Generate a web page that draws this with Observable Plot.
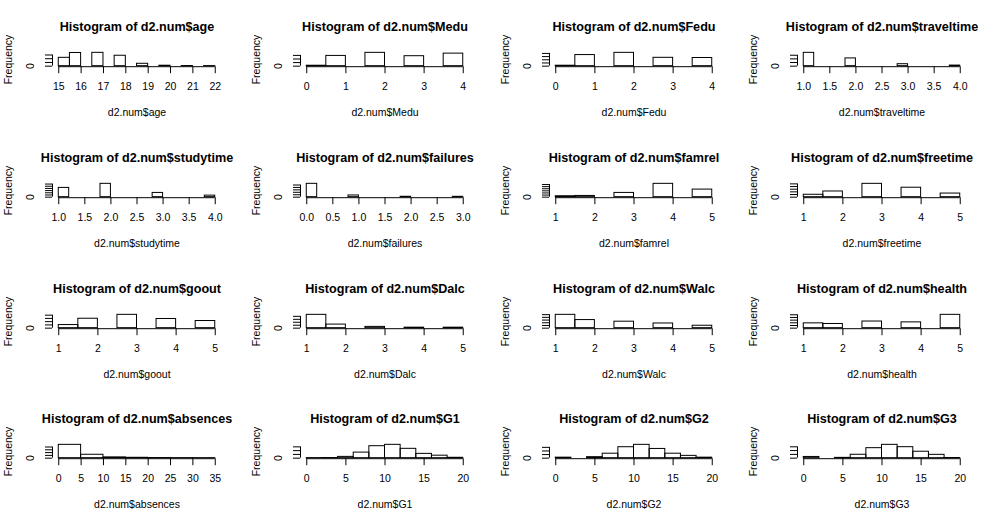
<!DOCTYPE html>
<html>
<head>
<meta charset="utf-8">
<script src="https://cdn.jsdelivr.net/npm/d3@7"></script>
<script src="https://cdn.jsdelivr.net/npm/@observablehq/plot@0.6"></script>
<style>
  html, body { margin: 0; padding: 0; background: #fff; }
  #grid { position: relative; width: 993px; height: 523px; background: #fff; }
  .cell { position: absolute; width: 248px; height: 131px; }
  .cell svg { overflow: visible; }
</style>
</head>
<body>
<div id="grid"></div>
<script>
// ---- variable names (panel order) ----
const varNames = ["age", "Medu", "Fedu", "traveltime",
                  "studytime", "failures", "famrel", "freetime",
                  "goout", "Dalc", "Walc", "health",
                  "absences", "G1", "G2", "G3"];

// ---- histogram break points ----
const ageBreaks   = [15, 15.5, 16, 16.5, 17, 17.5, 18, 18.5, 19, 19.5, 20, 20.5, 21, 21.5, 22];
const eduBreaks   = [0, 0.5, 1, 1.5, 2, 2.5, 3, 3.5, 4];
const timeBreaks  = [1, 1.2, 1.4, 1.6, 1.8, 2, 2.2, 2.4, 2.6, 2.8, 3, 3.2, 3.4, 3.6, 3.8, 4];
const failBreaks  = [0, 0.2, 0.4, 0.6, 0.8, 1, 1.2, 1.4, 1.6, 1.8, 2, 2.2, 2.4, 2.6, 2.8, 3];
const scaleBreaks = [1, 1.5, 2, 2.5, 3, 3.5, 4, 4.5, 5];
const absBreaks   = [0, 5, 10, 15, 20, 25, 30, 35];
const gradeBreaks = [0, 2, 4, 6, 8, 10, 12, 14, 16, 18, 20];

// ---- bin counts (frequencies) ----
const ageCounts        = [112, 177, 0, 179, 0, 140, 0, 32, 0, 6, 0, 2, 0, 1];
const meduCounts       = [6, 143, 0, 186, 0, 139, 0, 175];
const feduCounts       = [7, 174, 0, 209, 0, 131, 0, 128];
const traveltimeCounts = [366, 0, 0, 0, 213, 0, 0, 0, 0, 54, 0, 0, 0, 0, 16];
const studytimeCounts  = [212, 0, 0, 0, 305, 0, 0, 0, 0, 97, 0, 0, 0, 0, 35];
const failuresCounts   = [549, 0, 0, 0, 70, 0, 0, 0, 0, 16, 0, 0, 0, 0, 14];
const famrelCounts     = [22, 29, 0, 101, 0, 317, 0, 180];
const freetimeCounts   = [45, 107, 0, 251, 0, 178, 0, 68];
const gooutCounts      = [48, 145, 0, 205, 0, 141, 0, 110];
const dalcCounts       = [451, 121, 0, 43, 0, 17, 0, 17];
const walcCounts       = [247, 150, 0, 120, 0, 87, 0, 45];
const healthCounts     = [90, 78, 0, 124, 0, 108, 0, 249];
const absencesCounts   = [478, 122, 28, 13, 5, 2, 1];
const g1Counts         = [1, 2, 17, 74, 159, 177, 124, 57, 33, 5];
const g2Counts         = [7, 0, 14, 62, 152, 185, 128, 62, 32, 7];
const g3Counts         = [16, 0, 4, 45, 132, 176, 145, 85, 44, 2];

// ---- x-axis tick labels ----
const ageTicks   = [15, 16, 17, 18, 19, 20, 21, 22];
const eduTicks   = [0, 1, 2, 3, 4];
const timeTicks  = [1.0, 1.5, 2.0, 2.5, 3.0, 3.5, 4.0];
const failTicks  = [0.0, 0.5, 1.0, 1.5, 2.0, 2.5, 3.0];
const scaleTicks = [1, 2, 3, 4, 5];
const absTicks   = [0, 5, 10, 15, 20, 25, 30, 35];
const gradeTicks = [0, 5, 10, 15, 20];

const int = d3.format("d");
const dec1 = d3.format(".1f");

const panels = [
  [ageCounts, ageBreaks, ageTicks, int],
  [meduCounts, eduBreaks, eduTicks, int],
  [feduCounts, eduBreaks, eduTicks, int],
  [traveltimeCounts, timeBreaks, timeTicks, dec1],
  [studytimeCounts, timeBreaks, timeTicks, dec1],
  [failuresCounts, failBreaks, failTicks, dec1],
  [famrelCounts, scaleBreaks, scaleTicks, int],
  [freetimeCounts, scaleBreaks, scaleTicks, int],
  [gooutCounts, scaleBreaks, scaleTicks, int],
  [dalcCounts, scaleBreaks, scaleTicks, int],
  [walcCounts, scaleBreaks, scaleTicks, int],
  [healthCounts, scaleBreaks, scaleTicks, int],
  [absencesCounts, absBreaks, absTicks, int],
  [g1Counts, gradeBreaks, gradeTicks, int],
  [g2Counts, gradeBreaks, gradeTicks, int],
  [g3Counts, gradeBreaks, gradeTicks, int]
];

const FONT = "'Liberation Sans', Arial, Helvetica, sans-serif";
const grid = document.getElementById("grid");

panels.forEach(([counts, breaks, ticks, fmt], i) => {
  const name = varNames[i];
  const lo = breaks[0], hi = breaks[breaks.length - 1], r = hi - lo;
  const M = d3.max(counts);
  const bins = counts.map((c, j) => ({x1: breaks[j], x2: breaks[j + 1], y1: 0, y2: c}));
  const yTicks = d3.ticks(0, M * 1.04, 5);
  const xAxisLine = [{y: -0.04 * M, x1: ticks[0], x2: ticks[ticks.length - 1]}];
  const yAxisLine = [{x: lo - 0.04 * r, y1: yTicks[0], y2: yTicks[yTicks.length - 1]}];

  const chart = Plot.plot({
    width: 248,
    height: 131,
    marginLeft: 52,
    marginRight: 27,
    marginTop: 51.8,
    marginBottom: 64.8,
    x: {domain: [lo - 0.04 * r, hi + 0.04 * r]},
    y: {domain: [-0.04 * M, 1.04 * M]},
    style: {fontFamily: FONT, fontSize: "10.5px", color: "black", background: "transparent", overflow: "visible"},
    marks: [
      Plot.rect(bins, {x1: "x1", x2: "x2", y1: "y1", y2: "y2", stroke: "black", fill: "none", strokeWidth: 1}),
      Plot.ruleY(xAxisLine, {y: "y", x1: "x1", x2: "x2", stroke: "black", strokeWidth: 1}),
      Plot.ruleX(yAxisLine, {x: "x", y1: "y1", y2: "y2", stroke: "black", strokeWidth: 1}),
      Plot.axisX(ticks, {tickSize: 7, tickPadding: 8.6, tickFormat: fmt, fontSize: 10.5, label: null, stroke: "black", fill: "black"}),
      Plot.axisY(yTicks, {tickSize: 7, tickPadding: 11.7, tickRotate: -90, textAnchor: "middle",
                          tickFormat: d => d === 0 ? "0" : "", fontSize: 10.5, label: null, stroke: "black", fill: "black"}),
      Plot.text(["Frequency"], {text: d => d, frameAnchor: "left", textAnchor: "middle", lineAnchor: "middle",
                                dx: -43.7, rotate: -90, fontSize: 10.5, fill: "black"}),
      Plot.text(["Histogram of d2.num$" + name], {text: d => d, frameAnchor: "top", lineAnchor: "middle",
                                dy: -25.1, fontWeight: "bold", fontSize: 12.6, fill: "black"}),
      Plot.text(["d2.num$" + name], {text: d => d, frameAnchor: "bottom", lineAnchor: "middle",
                                dy: 45.5, fontSize: 10.5, fill: "black"})
    ]
  });

  const cell = document.createElement("div");
  cell.className = "cell";
  cell.style.left = (i % 4) * 248.25 + "px";
  cell.style.top = Math.floor(i / 4) * 130.75 + "px";
  cell.appendChild(chart);
  grid.appendChild(cell);
});
</script>
</body>
</html>
